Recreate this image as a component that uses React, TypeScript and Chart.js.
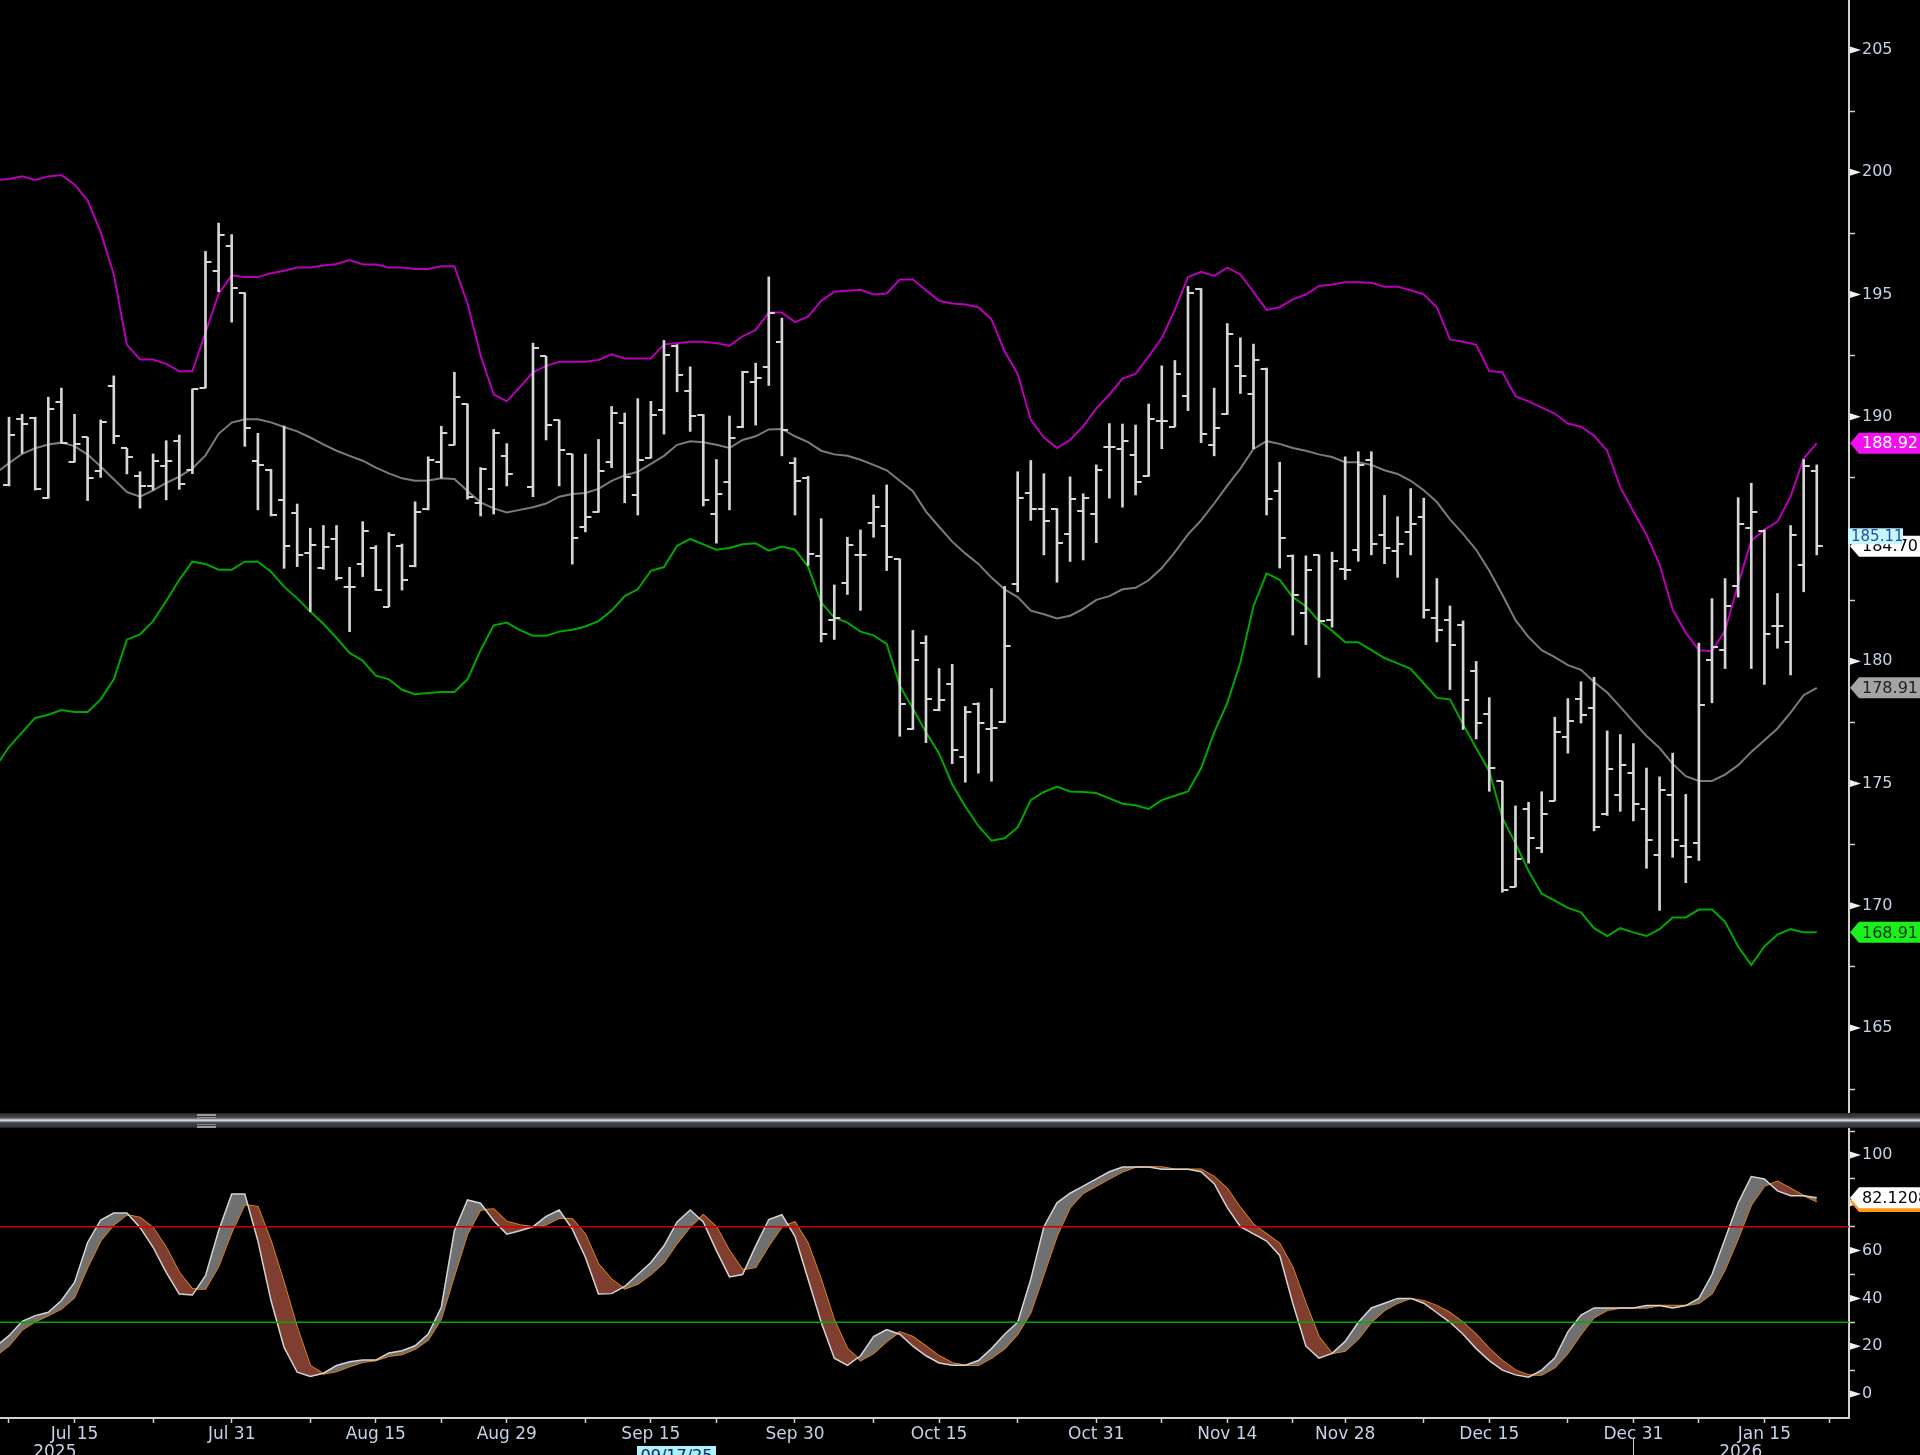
import React, { useEffect, useRef } from 'react';
import { Chart, registerables } from 'chart.js';
Chart.register(...registerables);

// ---------- data (bar index: -1 .. 138, one trading day per index) ----------
const FIRST_INDEX = -1;

const OPEN = [null, 187.21,189.91,189.95,186.66,190.62,188.16,189.16,187.79,191.24,188.71,
187.59,187.17,187.99,189.01,187.82,191.18,195.98,196.97,195.07,188.2,
187.82,186.6,186.05,184.41,183.8,184.99,183.05,183.97,184.62,182.23,
184.72,183.88,186.24,188.14,188.84,190.52,186.46,187.06,188.4,null,
187.13,192.47,189.87,188.47,185.5,186.09,188.14,189.76,186.8,188.31,
190.26,192.9,191.07,190.09,186.02,187.32,189.59,191.43,192.04,193.05,
188.1,187.5,184.29,181.69,183.21,184.35,185.65,185.54,184.18,177.21,
180.74,178.01,179.05,176.07,178.25,177.21,177.5,183.16,186.89,186.24,
186.24,185.22,186.15,186.04,188.75,188.69,188.42,187.56,189.81,189.59,
190.85,195.24,188.86,190.13,192.08,190.95,191.97,186.95,184.31,181.97,
184.35,181.69,183.77,184.53,188.25,185.16,184.51,185.29,185.91,181.76,
181.69,181.48,179.6,177.86,175.09,170.77,173.97,172.35,174.29,176.89,
178.47,178.08,173.75,174.51,175.44,173.97,172.06,174.51,172.45,172.56,
180.03,180.46,183.06,185.44,185.33,181.43,180.79,183.92,187.77];

const HIGH = [null, 189.98,190.1,189.98,190.8,191.17,190.1,189.16,189.87,191.67,188.71,
187.75,188.48,189.02,189.25,191.13,196.76,197.92,197.45,195.07,189.32,
187.85,189.62,186.43,185.44,185.55,185.55,183.84,185.71,184.73,185.26,
184.79,186.52,188.36,189.61,191.82,190.52,187.92,189.48,188.9,null,
193.01,192.47,189.87,188.47,188.47,189.07,190.42,190.15,190.74,190.63,
193.12,192.95,192.04,190.09,188.25,190.03,191.86,192.19,195.72,194.03,
188.32,187.56,185.83,183.12,185.07,185.37,186.8,187.21,184.18,181.26,
181.04,179.7,179.87,178.15,178.3,178.88,183.06,187.75,188.21,187.67,
186.24,187.54,186.85,188.03,189.72,189.7,189.66,190.52,192.08,192.3,
195.33,195.24,191.17,193.81,193.23,192.97,191.99,188.14,184.35,184.31,
184.35,184.46,188.36,188.57,188.57,186.78,185.91,187.06,186.67,183.38,
182.26,181.65,179.99,178.51,175.09,174.08,174.23,174.66,177.71,178.47,
179.16,179.34,177.15,177.0,176.63,175.63,175.27,176.24,174.55,180.74,
182.56,183.38,186.69,187.28,185.37,182.77,185.55,188.25,188.03];

const LOW = [null, 187.17,188.5,187.0,186.66,188.91,188.14,186.57,187.52,188.9,187.66,
186.26,187.0,186.6,187.03,187.67,191.18,195.11,193.87,188.79,186.19,
185.94,183.8,183.87,182.03,183.76,183.32,181.21,183.46,182.89,182.23,
182.91,183.86,186.19,187.49,188.84,186.63,185.94,186.02,187.17,null,
186.73,189.05,187.17,183.97,185.29,186.09,187.92,186.48,185.98,188.31,
189.29,191.02,189.4,186.35,184.83,186.19,189.55,189.66,191.28,188.4,
185.98,183.92,180.79,180.89,182.73,182.08,185.07,183.71,176.93,177.21,
176.67,177.97,175.81,175.05,175.42,175.09,177.5,182.84,185.76,184.35,
183.23,184.08,184.14,184.85,186.67,186.3,186.8,187.56,188.69,189.59,
190.25,188.94,188.4,190.09,190.95,188.69,185.98,183.81,181.07,180.68,
179.34,181.39,183.34,184.09,184.35,183.99,183.43,184.35,181.76,180.79,
178.84,177.21,176.82,174.68,170.55,170.77,171.74,172.17,174.29,176.24,
177.47,173.06,173.69,173.86,173.47,171.53,169.81,171.98,170.94,171.85,
178.3,179.7,182.62,179.7,179.05,180.53,179.44,182.84,184.35];

const CLOSE = [188.03, 189.25,189.69,187.03,190.31,188.91,188.87,187.48,189.8,189.23,188.37,
187.17,188.2,188.2,187.25,191.13,196.32,197.45,195.28,189.55,188.03,
185.98,184.73,184.35,184.75,184.69,183.39,183.02,185.33,182.91,185.16,
183.34,186.09,188.25,189.33,190.8,186.73,187.86,189.33,187.67,null,
192.8,189.66,188.64,185.05,185.91,187.77,190.15,187.54,188.21,190.09,
192.53,191.71,190.03,186.58,186.85,189.11,191.82,191.6,194.25,189.44,
187.38,184.4,181.11,181.76,184.75,184.35,186.3,184.25,178.25,180.03,
178.47,178.4,176.35,177.91,177.47,177.28,180.63,186.67,186.24,185.72,
184.85,186.63,186.69,187.82,188.75,189.01,187.32,189.92,189.81,191.76,
195.07,189.29,189.55,193.4,191.67,192.3,186.63,185.05,182.69,183.75,
181.65,184.09,183.75,188.03,184.79,184.64,184.79,185.61,182.08,181.28,
180.68,178.4,177.47,175.63,170.66,171.91,172.78,173.75,177.11,177.54,
177.82,173.21,175.6,175.77,174.14,172.67,174.73,172.67,171.98,178.19,
180.57,182.26,185.61,186.09,181.11,181.43,185.18,187.99,184.70];

const BB_UPPER = [199.68, 199.72,199.83,199.68,199.83,199.89,199.5,198.85,197.55,195.82,192.94,
192.34,192.34,192.16,191.86,191.86,193.44,195.02,195.78,195.71,195.71,
195.87,195.97,196.1,196.1,196.19,196.25,196.41,196.23,196.23,196.1,
196.1,196.04,196.04,196.15,196.15,194.63,192.51,190.91,190.63,191.21,
191.82,192.08,192.25,192.25,192.25,192.32,192.55,192.38,192.38,192.38,
192.96,193.01,193.07,193.07,193.01,192.9,193.29,193.55,194.26,194.26,
193.87,194.09,194.74,195.11,195.15,195.19,195.0,195.04,195.61,195.61,
195.17,194.74,194.63,194.59,194.48,193.98,192.68,191.75,189.87,189.15,
188.72,189.05,189.61,190.34,190.91,191.56,191.75,192.47,193.22,194.37,
195.71,195.93,195.76,196.1,195.82,195.11,194.37,194.48,194.8,195.0,
195.35,195.41,195.5,195.5,195.48,195.32,195.32,195.17,195.0,194.48,
193.16,193.07,192.94,191.87,191.82,190.84,190.63,190.37,190.13,189.72,
189.59,189.22,188.61,187.12,186.12,185.17,183.96,182.12,181.17,180.45,
180.41,181.25,183.16,184.93,185.37,185.71,186.73,188.29,188.92];

const BB_MIDDLE = [187.7, 188.1,188.48,188.71,188.86,188.94,188.8,188.45,187.96,187.44,186.92,
186.73,186.99,187.29,187.55,187.88,188.42,189.3,189.76,189.9,189.9,
189.77,189.58,189.4,189.15,188.87,188.61,188.4,188.2,187.92,187.68,
187.48,187.38,187.39,187.48,187.45,186.96,186.5,186.25,186.08,186.19,
186.3,186.45,186.73,186.84,186.88,187.05,187.38,187.6,187.75,188.07,
188.4,188.85,189.0,188.96,188.85,188.72,189.05,189.2,189.48,189.5,
189.2,188.96,188.61,188.46,188.4,188.24,188.03,187.81,187.38,186.95,
186.12,185.5,184.89,184.41,183.98,183.42,182.94,182.62,182.07,181.92,
181.75,181.86,182.14,182.51,182.66,182.94,183.0,183.31,183.81,184.46,
185.19,185.76,186.45,187.18,187.88,188.68,189.0,188.89,188.72,188.61,
188.46,188.35,188.14,188.14,188.03,187.81,187.66,187.38,186.99,186.51,
185.8,185.21,184.56,183.7,182.72,181.68,180.99,180.45,180.17,179.84,
179.65,179.15,178.72,178.13,177.53,176.94,176.45,175.8,175.3,175.1,
175.1,175.36,175.75,176.29,176.77,177.25,177.9,178.61,178.91];

const BB_LOWER = [175.7, 176.49,177.09,177.68,177.81,178.0,177.92,177.92,178.44,179.26,180.88,
181.1,181.64,182.46,183.33,184.07,183.98,183.74,183.74,184.07,184.07,
183.66,183.05,182.57,182.03,181.53,180.95,180.34,180.02,179.41,179.26,
178.83,178.65,178.7,178.74,178.74,179.26,180.45,181.47,181.58,181.27,
181.04,181.04,181.21,181.29,181.42,181.64,182.07,182.66,182.94,183.7,
183.85,184.72,185.0,184.78,184.56,184.63,184.78,184.82,184.52,184.69,
184.56,183.87,182.4,181.79,181.58,181.21,181.06,180.71,179.0,178.07,
177.09,176.23,174.97,174.06,173.26,172.66,172.76,173.2,174.32,174.65,
174.87,174.67,174.65,174.61,174.39,174.17,174.11,173.96,174.32,174.5,
174.67,175.62,177.09,178.29,179.95,182.25,183.59,183.33,182.62,182.25,
181.64,181.25,180.78,180.78,180.45,180.13,179.91,179.69,179.09,178.5,
178.44,177.42,176.45,175.5,173.59,172.55,171.42,170.49,170.21,169.91,
169.73,169.08,168.76,169.08,168.91,168.76,169.04,169.52,169.52,169.84,
169.84,169.34,168.33,167.57,168.33,168.82,169.04,168.91,168.91];

const STOCH_K = [20, 24.4,30.4,32.8,34.2,39.1,46.7,63.4,72.8,75.7,75.7,
69.7,61.4,50.9,41.8,41.4,49.5,68.3,83.7,83.7,64.1,
39.1,19.5,9.1,7.3,8.7,11.9,13.5,14.2,14.2,17.2,
18.1,20.2,25.1,36.3,68.3,81.2,79.8,72.5,66.9,68.3,
70.0,74.3,77.0,69.0,57.2,41.8,42,45,50,55,
62,72,77,72,60,49,50,62,73,75,
66,48,30,15,12,16,24,27,25,20,
16,13,12,12,14,19,25,30,48,70,
80,84,87,90,93,95,95,95,94,94,
94,93,88,78,70,67,64,58,38,20,
15,17,22,30,36,38,40,40,38,34,
30,25,19,14,10,8,7,10,15,26,
33,36,36,36,36,37,37,36,37,40,
50,65,80,91,90,85,83,83,82.1208];

const STOCH_D = [16, 20.2,26.8,30.3,32.8,35.6,40.4,53,64.1,70.8,75.0,
73.9,69.7,61.4,50.9,43.9,43.9,53.4,67.6,79.2,78.4,
64.1,46.7,27.9,11.9,8.4,9.4,11.5,13.3,14.0,15.8,
16.5,18.8,22.6,31.4,49.5,66.9,77.0,77.4,72.2,70.7,
70.0,70.8,73.6,73.2,66.9,54.4,48,44,46,50,
55,63,70,75,70,60,52,53,62,70,
72,63,48,31,19,14,17,22,26,24,
20,16,13,12,12,15,19,25,34,50,
66,78,84,87,90,93,95,95,95,94,
94,94,91,86,78,71,67,63,53,38,
24,17,18,23,30,35,38,40,39,37,
34,30,25,19,14,10,8,8,11,17,
25,32,35,36,36,36,37,37,37,38,
42,52,65,79,87,89,86,83,80.5];

const STOCH_LEVELS = [70, 30];
const LAST_QUOTE = 185.11;

// axis ticks / labels
const DATE_LABEL_INDEX = [5, 17, 28, 38, 49, 60, 71, 83, 93, 102, 113, 124, 134];
const DATE_LABEL_TEXT = ['Jul 15', 'Jul 31', 'Aug 15', 'Aug 29', 'Sep 15', 'Sep 30', 'Oct 15', 'Oct 31', 'Nov 14', 'Nov 28', 'Dec 15', 'Dec 31', 'Jan 15'];
const DATE_MINOR_INDEX = [0, 11, 23, 33, 44, 54, 66, 77, 88, 98, 108, 119, 129, 139];
const YEAR_LABEL_INDEX = [3.5, 132.2];
const YEAR_LABEL_TEXT = ['2025', '2026'];
const YEAR_BOUNDARY_INDEX = 124;
const PRICE_MAJOR = [165, 170, 175, 180, 185, 190, 195, 200, 205];
const PRICE_MINOR = [162.5, 167.5, 172.5, 177.5, 182.5, 187.5, 192.5, 197.5, 202.5];
const STOCH_MAJOR = [0, 20, 40, 60, 80, 100];
const STOCH_MINOR = [10, 30, 50, 70, 90, 110];

// ---------- view ----------
const X_MIN = -0.687, X_MAX = 140.46;
const PRICE_MIN = 161.48, PRICE_MAX = 207.045;
const STOCH_MIN = -10.04, STOCH_MAX = 111.3;
const AXIS_W = 71;
const FONT = "'DejaVu Sans', 'Liberation Sans', sans-serif";
const LABEL_COLOR = '#c4d2e8';
const AXIS_COLOR = '#d0d0d0';
const BAR_COLOR = '#d6d6d6';

const xOf = (k: number) => FIRST_INDEX + k;

function tickImage(side: 'left' | 'right') {
  const c = document.createElement('canvas');
  c.width = 14; c.height = 2;
  const g = c.getContext('2d')!;
  g.fillStyle = BAR_COLOR;
  if (side === 'left') g.fillRect(1, 0, 6, 2); else g.fillRect(7, 0, 6, 2);
  return c;
}

function drawTag(ctx: CanvasRenderingContext2D, x0: number, y: number, text: string, bg: string, fg: string) {
  const h = 21;
  ctx.beginPath();
  ctx.moveTo(x0 + 1, y);
  ctx.lineTo(x0 + 10, y - h / 2);
  ctx.lineTo(1920, y - h / 2);
  ctx.lineTo(1920, y + h / 2);
  ctx.lineTo(x0 + 10, y + h / 2);
  ctx.closePath();
  ctx.fillStyle = bg;
  ctx.fill();
  ctx.fillStyle = fg;
  ctx.font = `16px ${FONT}`;
  ctx.textAlign = 'left';
  ctx.textBaseline = 'middle';
  ctx.fillText(text, x0 + 13, y + 1);
}

function drawTriangles(chart: any, axisId: string, majors: number[]) {
  const s = chart.scales[axisId];
  const ctx = chart.ctx;
  ctx.save();
  ctx.fillStyle = '#f0f0f0';
  for (const v of majors) {
    const y = s.getPixelForValue(v);
    ctx.beginPath();
    ctx.moveTo(s.left + 1, y - 3.5);
    ctx.lineTo(s.left + 12, y);
    ctx.lineTo(s.left + 1, y + 3.5);
    ctx.closePath();
    ctx.fill();
  }
  ctx.restore();
}

const fitRight = (s: any) => { s.width = AXIS_W; s.paddingTop = 0; s.paddingBottom = 0; };

export default function App() {
  const topRef = useRef<HTMLCanvasElement>(null);
  const botRef = useRef<HTMLCanvasElement>(null);

  useEffect(() => {
    const line = (arr: number[]) => arr.map((v, k) => ({ x: xOf(k), y: v }));
    const ohlcPts = (arr: (number | null)[]) =>
      arr.map((v, k) => (v == null ? null : { x: xOf(k), y: v })).filter(Boolean);
    const barPts = HIGH.map((h, k) => (h == null || LOW[k] == null ? null : { x: xOf(k), y: [LOW[k], h] })).filter(Boolean);

    const topChart = new Chart(topRef.current!, {
      type: 'line',
      data: {
        datasets: [
          { type: 'line', data: ohlcPts(OPEN), showLine: false, pointStyle: tickImage('left'), pointRadius: 3, pointHoverRadius: 3, order: 0 } as any,
          { type: 'line', data: ohlcPts(CLOSE), showLine: false, pointStyle: tickImage('right'), pointRadius: 3, pointHoverRadius: 3, order: 0 } as any,
          { type: 'bar', data: barPts, backgroundColor: BAR_COLOR, barThickness: 2, borderWidth: 0, grouped: false, order: 1 } as any,
          { type: 'line', data: line(BB_UPPER), borderColor: '#b800b8', borderWidth: 2, pointRadius: 0, tension: 0, order: 3 } as any,
          { type: 'line', data: line(BB_MIDDLE), borderColor: '#7c7c7c', borderWidth: 2, pointRadius: 0, tension: 0, order: 3 } as any,
          { type: 'line', data: line(BB_LOWER), borderColor: '#00a800', borderWidth: 2, pointRadius: 0, tension: 0, order: 3 } as any,
        ],
      },
      options: {
        responsive: false,
        animation: false,
        devicePixelRatio: 1,
        events: [],
        layout: { padding: 0, autoPadding: false },
        plugins: { legend: { display: false }, tooltip: { enabled: false } },
        scales: {
          x: { type: 'linear', min: X_MIN, max: X_MAX, display: false, offset: false, grid: { offset: false } },
          y: {
            type: 'linear', position: 'right', min: PRICE_MIN, max: PRICE_MAX,
            afterBuildTicks: (s: any) => { s.ticks = [...PRICE_MINOR, ...PRICE_MAJOR].sort((a, b) => a - b).map((v) => ({ value: v })); },
            afterFit: fitRight,
            grid: { drawOnChartArea: false, drawTicks: true, tickLength: 6, tickColor: AXIS_COLOR, tickWidth: 1.5 },
            border: { display: true, color: AXIS_COLOR, width: 2 },
            ticks: {
              autoSkip: false, padding: 7, color: LABEL_COLOR, font: { family: FONT, size: 16 },
              callback: (v: any) => (PRICE_MAJOR.includes(Number(v)) ? String(v) : ''),
            },
          },
        },
      } as any,
      plugins: [{
        id: 'priceDecor',
        afterDraw(chart: any) {
          drawTriangles(chart, 'y', PRICE_MAJOR);
          const s = chart.scales.y;
          const ctx = chart.ctx;
          const x0 = s.left;
          ctx.save();
          drawTag(ctx, x0, s.getPixelForValue(BB_UPPER[BB_UPPER.length - 1]), BB_UPPER[BB_UPPER.length - 1].toFixed(2), '#f010f0', '#ffffff');
          drawTag(ctx, x0, s.getPixelForValue(BB_MIDDLE[BB_MIDDLE.length - 1]), BB_MIDDLE[BB_MIDDLE.length - 1].toFixed(2), '#a4a4a4', '#1e1e1e');
          drawTag(ctx, x0, s.getPixelForValue(BB_LOWER[BB_LOWER.length - 1]), BB_LOWER[BB_LOWER.length - 1].toFixed(2), '#1cf01c', '#0a3a0a');
          const lastClose = CLOSE[CLOSE.length - 1] as number;
          drawTag(ctx, x0, s.getPixelForValue(lastClose), lastClose.toFixed(2), '#ffffff', '#000000');
          const yq = s.getPixelForValue(LAST_QUOTE);
          ctx.fillStyle = '#c6f6ff';
          ctx.fillRect(x0 - 1, yq - 8, 55, 16);
          ctx.fillStyle = '#2050a0';
          ctx.font = `15px ${FONT}`;
          ctx.textAlign = 'left';
          ctx.textBaseline = 'middle';
          ctx.fillText(LAST_QUOTE.toFixed(2), x0 + 2, yq + 1);
          ctx.restore();
        },
      }],
    });

    const botChart = new Chart(botRef.current!, {
      type: 'line',
      data: {
        datasets: [
          {
            data: line(STOCH_K), borderColor: '#d4d4d4', borderWidth: 1.5, pointRadius: 0, tension: 0, order: 1,
            fill: { target: 1, above: 'rgb(112,112,112)', below: 'rgb(128,62,48)' },
          } as any,
          { data: line(STOCH_D), borderColor: '#ee8a10', borderWidth: 1.5, pointRadius: 0, tension: 0, order: 2, fill: false } as any,
          { data: [{ x: X_MIN, y: STOCH_LEVELS[0] }, { x: X_MAX, y: STOCH_LEVELS[0] }], borderColor: '#cc0000', borderWidth: 1.5, pointRadius: 0, order: 0 } as any,
          { data: [{ x: X_MIN, y: STOCH_LEVELS[1] }, { x: X_MAX, y: STOCH_LEVELS[1] }], borderColor: '#00aa00', borderWidth: 1.5, pointRadius: 0, order: 0 } as any,
        ],
      },
      options: {
        responsive: false,
        animation: false,
        devicePixelRatio: 1,
        events: [],
        layout: { padding: 0, autoPadding: false },
        plugins: { legend: { display: false }, tooltip: { enabled: false } },
        scales: {
          x: {
            type: 'linear', position: 'bottom', min: X_MIN, max: X_MAX, offset: false,
            afterBuildTicks: (s: any) => { s.ticks = [...DATE_LABEL_INDEX, ...DATE_MINOR_INDEX].sort((a, b) => a - b).map((v) => ({ value: v })); },
            afterFit: (s: any) => { s.height = 37; s.paddingLeft = 0; s.paddingRight = 0; },
            grid: { drawOnChartArea: false, drawTicks: true, tickLength: 5, tickColor: AXIS_COLOR, tickWidth: 1.5, offset: false },
            border: { display: true, color: AXIS_COLOR, width: 2 },
            ticks: {
              autoSkip: false, maxRotation: 0, minRotation: 0, padding: 1, color: LABEL_COLOR, font: { family: FONT, size: 17 },
              callback: (v: any) => { const k = DATE_LABEL_INDEX.indexOf(Number(v)); return k >= 0 ? DATE_LABEL_TEXT[k] : ''; },
            },
          },
          y: {
            type: 'linear', position: 'right', min: STOCH_MIN, max: STOCH_MAX,
            afterBuildTicks: (s: any) => { s.ticks = [...STOCH_MINOR, ...STOCH_MAJOR].sort((a, b) => a - b).map((v) => ({ value: v })); },
            afterFit: fitRight,
            grid: { drawOnChartArea: false, drawTicks: true, tickLength: 6, tickColor: AXIS_COLOR, tickWidth: 1.5 },
            border: { display: true, color: AXIS_COLOR, width: 2 },
            ticks: {
              autoSkip: false, padding: 7, color: LABEL_COLOR, font: { family: FONT, size: 16 },
              callback: (v: any) => (STOCH_MAJOR.includes(Number(v)) ? String(v) : ''),
            },
          },
        },
      } as any,
      plugins: [{
        id: 'stochDecor',
        afterDraw(chart: any) {
          drawTriangles(chart, 'y', STOCH_MAJOR);
          const s = chart.scales.y;
          const xs = chart.scales.x;
          const ctx = chart.ctx;
          ctx.save();
          const dLast = STOCH_D[STOCH_D.length - 1];
          const kLast = STOCH_K[STOCH_K.length - 1];
          drawTag(ctx, s.left, s.getPixelForValue(dLast), dLast.toFixed(4), '#ff9a10', '#6a3000');
          drawTag(ctx, s.left, s.getPixelForValue(kLast), kLast.toFixed(4), '#ffffff', '#000000');
          // year labels under the date axis
          ctx.fillStyle = LABEL_COLOR;
          ctx.font = `17px ${FONT}`;
          ctx.textAlign = 'center';
          ctx.textBaseline = 'middle';
          YEAR_LABEL_INDEX.forEach((xi, k) => ctx.fillText(YEAR_LABEL_TEXT[k], xs.getPixelForValue(xi), 325));
          const xb = Math.round(xs.getPixelForValue(YEAR_BOUNDARY_INDEX)) + 0.5;
          ctx.strokeStyle = AXIS_COLOR;
          ctx.lineWidth = 1;
          ctx.beginPath();
          ctx.moveTo(xb, 311);
          ctx.lineTo(xb, 327);
          ctx.stroke();
          ctx.restore();
        },
      }],
    });

    return () => { topChart.destroy(); botChart.destroy(); };
  }, []);

  return (
    <div style={{ position: 'fixed', left: 0, top: 0, width: 1920, height: 1455, overflow: 'hidden', background: '#000' }}>
      <canvas ref={topRef} width={1920} height={1114} style={{ position: 'absolute', left: 0, top: 0, width: 1920, height: 1114 }} />
      <div style={{
        position: 'absolute', left: 0, top: 1113, width: 1920, height: 15,
        background: 'linear-gradient(#1e1e1e 0px, #3c3c3c 2px, #3c3c3c 4px, #5a5a5a 5px, #c8d4e4 7px, #c8d4e4 8px, #5a5a5a 9px, #3c3c3c 11px, #3c3c3c 13px, #1e1e1e 15px)',
      }} />
      <div style={{ position: 'absolute', left: 197, top: 1114, width: 19, height: 2, background: '#9a9a9a' }} />
      <div style={{ position: 'absolute', left: 197, top: 1117, width: 19, height: 1, background: '#8a8a8a' }} />
      <div style={{ position: 'absolute', left: 197, top: 1124, width: 19, height: 1, background: '#8a8a8a' }} />
      <div style={{ position: 'absolute', left: 197, top: 1126, width: 19, height: 2, background: '#9a9a9a' }} />
      <canvas ref={botRef} width={1920} height={327} style={{ position: 'absolute', left: 0, top: 1128, width: 1920, height: 327 }} />
      <div style={{
        position: 'absolute', left: 637, top: 1446, width: 79, height: 20, background: '#aef2fa', color: '#0a2a6a',
        fontFamily: FONT, fontSize: 16, lineHeight: '20px', textAlign: 'center',
      }}>09/17/25</div>
    </div>
  );
}
